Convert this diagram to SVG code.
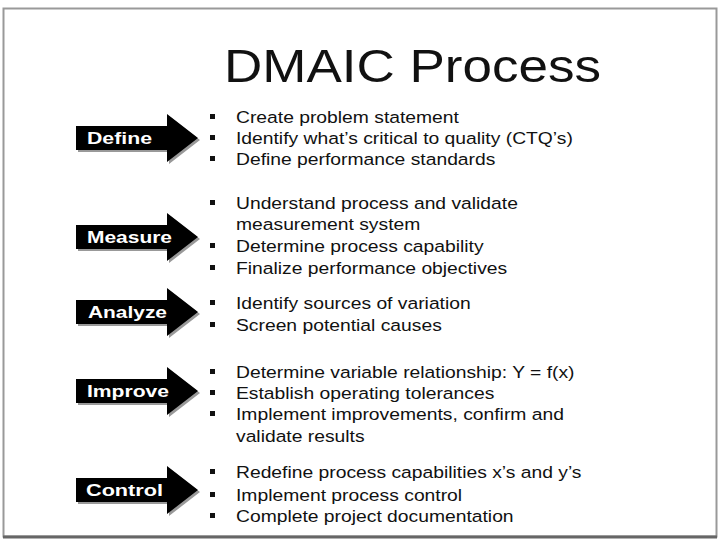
<svg xmlns="http://www.w3.org/2000/svg" width="720" height="540" viewBox="0 0 720 540">
<defs>
<style>
.t{font-family:"Liberation Sans",Arial,sans-serif;font-size:17px;fill:#111}
.a{font-family:"Liberation Sans",Arial,sans-serif;font-size:17px;font-weight:bold;fill:#fff}
.b{fill:#111}
.arr{fill:#000}
.sh{fill:#999}
</style>
<path id="arrow" d="M0,-12 L91,-12 L91,-24 L122,0 L91,24 L91,12 L0,12 Z"/>
</defs>
<rect x="0" y="0" width="720" height="540" fill="#fff"/>
<rect x="3.5" y="8.5" width="713" height="528" fill="none" stroke="#999" stroke-width="2"/>
<line x1="3" y1="537" x2="717" y2="537" stroke="#666" stroke-width="3"/>
<text x="224" y="82" textLength="377" lengthAdjust="spacingAndGlyphs" font-family="Liberation Sans,Arial,sans-serif" font-size="46" fill="#111">DMAIC Process</text>
<g id="define">
<use href="#arrow" x="78" y="140" class="sh"/>
<use href="#arrow" x="76" y="138" class="arr"/>
<text class="a" x="87" y="144" textLength="65" lengthAdjust="spacingAndGlyphs">Define</text>
</g>
<g id="measure">
<use href="#arrow" x="78" y="239" class="sh"/>
<use href="#arrow" x="76" y="237" class="arr"/>
<text class="a" x="87" y="243" textLength="85" lengthAdjust="spacingAndGlyphs">Measure</text>
</g>
<g id="analyze">
<use href="#arrow" x="78" y="314" class="sh"/>
<use href="#arrow" x="76" y="312" class="arr"/>
<text class="a" x="88" y="318" textLength="79" lengthAdjust="spacingAndGlyphs">Analyze</text>
</g>
<g id="improve">
<use href="#arrow" x="78" y="393" class="sh"/>
<use href="#arrow" x="76" y="391" class="arr"/>
<text class="a" x="87" y="397" textLength="82" lengthAdjust="spacingAndGlyphs">Improve</text>
</g>
<g id="control">
<use href="#arrow" x="78" y="492" class="sh"/>
<use href="#arrow" x="76" y="490" class="arr"/>
<text class="a" x="86" y="496" textLength="77" lengthAdjust="spacingAndGlyphs">Control</text>
</g>
<g id="connectors"></g>
<g id="bullets">
<rect class="b" x="210" y="114" width="5" height="5"/>
<rect class="b" x="210" y="135" width="5" height="5"/>
<rect class="b" x="210" y="156" width="5" height="5"/>
<rect class="b" x="210" y="200" width="5" height="5"/>
<rect class="b" x="210" y="243" width="5" height="5"/>
<rect class="b" x="210" y="265" width="5" height="5"/>
<rect class="b" x="210" y="300" width="5" height="5"/>
<rect class="b" x="210" y="322" width="5" height="5"/>
<rect class="b" x="210" y="369" width="5" height="5"/>
<rect class="b" x="210" y="390" width="5" height="5"/>
<rect class="b" x="210" y="411" width="5" height="5"/>
<rect class="b" x="210" y="469" width="5" height="5"/>
<rect class="b" x="210" y="492" width="5" height="5"/>
<rect class="b" x="210" y="513" width="5" height="5"/>
</g>
<g id="items" transform="matrix(1.135,0,0,1,-31.86,0)">
<text class="t" x="236" y="123">Create problem statement</text>
<text class="t" x="236" y="144">Identify what’s critical to quality (CTQ’s)</text>
<text class="t" x="236" y="165">Define performance standards</text>
<text class="t" x="236" y="209">Understand process and validate</text>
<text class="t" x="236" y="230">measurement system</text>
<text class="t" x="236" y="252">Determine process capability</text>
<text class="t" x="236" y="274">Finalize performance objectives</text>
<text class="t" x="236" y="309">Identify sources of variation</text>
<text class="t" x="236" y="331">Screen potential causes</text>
<text class="t" x="236" y="378">Determine variable relationship: Y = f(x)</text>
<text class="t" x="236" y="399">Establish operating tolerances</text>
<text class="t" x="236" y="420">Implement improvements, confirm and</text>
<text class="t" x="236" y="442">validate results</text>
<text class="t" x="236" y="478">Redefine process capabilities x’s and y’s</text>
<text class="t" x="236" y="501">Implement process control</text>
<text class="t" x="236" y="522">Complete project documentation</text>
</g>
</svg>
